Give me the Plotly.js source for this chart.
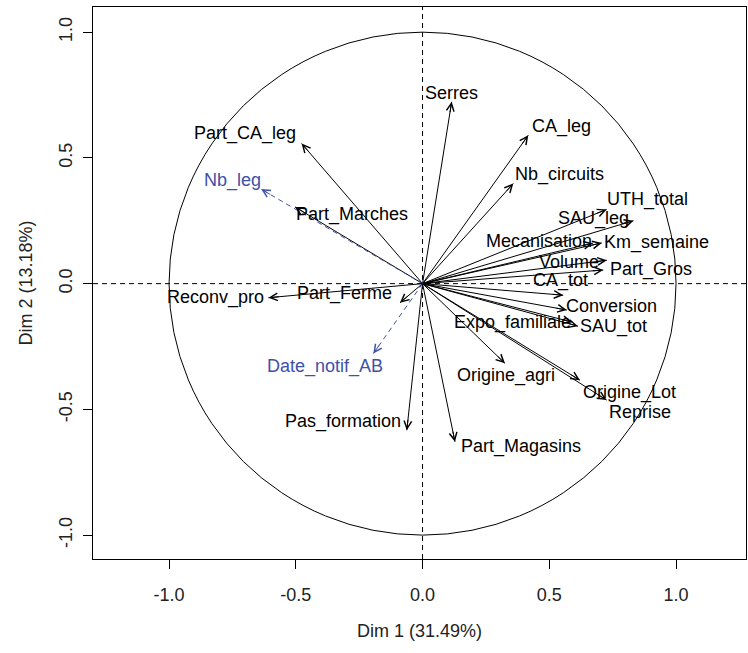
<!DOCTYPE html>
<html>
<head>
<meta charset="utf-8">
<script src="https://cdn.plot.ly/plotly-3.0.1.min.js"></script>
<style>html,body{margin:0;padding:0;background:#fff}#chart{width:748px;height:653px}</style>
</head>
<body>
<div id="chart"></div>
<script>
// Variable names
var varNames = ["Serres","CA_leg","Nb_circuits","UTH_total","SAU_leg","Km_semaine","Mecanisation","Volume","Part_Gros","CA_tot","Conversion","SAU_tot","Expo_familiale","Origine_agri","Origine_Lot","Reprise","Part_Magasins","Pas_formation","Part_CA_leg","Part_Marches","Reconv_pro","Part_Ferme"];
// Dim 1 / Dim 2 coordinates (active variables)
var dim1 = [0.115,0.417,0.358,0.726,0.832,0.707,0.672,0.727,0.713,0.555,0.569,0.613,0.590,0.325,0.621,0.726,0.128,-0.062,-0.477,-0.503,-0.608,-0.089];
var dim2 = [0.723,0.590,0.398,0.295,0.250,0.162,0.161,0.093,0.054,-0.046,-0.105,-0.169,-0.153,-0.317,-0.384,-0.463,-0.629,-0.583,0.557,0.305,-0.056,-0.076];
// Supplementary variables
var supNames = ["Nb_leg","Date_notif_AB"];
var supDim1 = [-0.637,-0.194];
var supDim2 = [0.376,-0.278];
var xTitle = "Dim 1 (31.49%)";
var yTitle = "Dim 2 (13.18%)";
var tickVals = [-1.0,-0.5,0.0,0.5,1.0];
var tickText = ["-1.0","-0.5","0.0","0.5","1.0"];

// label offsets in screen pixels (dx right, dy down) -- layout only
var labelOff = [[0,-9],[33,-9],[46,-9],[41,-10],[-40,-2],[55,0],[-54,-2],[-38,2],[48,-1],[-3,-15],[45,-4],[36,0],[-60,0],[1,12],[50,12],[33,12],[66,5],[-64,-9],[-57,-10],[57,8],[-53,0],[-55,-9]];
var supLabelOff = [[-29,-9],[-48,13]];

var FONT = "Liberation Sans, Arial, sans-serif";
var FS = 18;
var SUPCOL = "#4050a8";
var PXX = 253.5, PXY = 251.5, HEADTAIL = 12;

function segs(xs, ys){
  var X=[],Y=[];
  for(var i=0;i<xs.length;i++){X.push(0,xs[i],null);Y.push(0,ys[i],null);}
  return {x:X,y:Y};
}
var a = segs(dim1, dim2), s = segs(supDim1, supDim2);
var traces = [
  {x:a.x,y:a.y,mode:"lines",line:{color:"#000",width:1},hoverinfo:"skip",showlegend:false},
  {x:s.x,y:s.y,mode:"lines",line:{color:SUPCOL,width:1,dash:"5px,4px"},hoverinfo:"skip",showlegend:false}
];

var ann = [];
function addArrow(x,y,col){
  var dx = x*PXX, dy = -y*PXY, n = Math.sqrt(dx*dx+dy*dy);
  ann.push({x:x,y:y,xref:"x",yref:"y",ax:-dx/n*HEADTAIL,ay:-dy/n*HEADTAIL,text:"",showarrow:true,arrowhead:5,arrowsize:1.5,arrowwidth:1,arrowcolor:col});
}
function addLabel(x,y,t,off,col){
  ann.push({x:x,y:y,xref:"x",yref:"y",text:t,showarrow:false,xshift:off[0],yshift:-off[1],font:{family:FONT,size:FS,color:col},xanchor:"center",yanchor:"middle"});
}
for(var i=0;i<varNames.length;i++){addArrow(dim1[i],dim2[i],"#000");addLabel(dim1[i],dim2[i],varNames[i],labelOff[i],"#000");}
for(var j=0;j<supNames.length;j++){addArrow(supDim1[j],supDim2[j],SUPCOL);addLabel(supDim1[j],supDim2[j],supNames[j],supLabelOff[j],SUPCOL);}

var axisCommon = {showgrid:false,zeroline:false,showline:true,mirror:true,linecolor:"#000",linewidth:1,ticks:"outside",ticklen:9,tickcolor:"#000",tickwidth:1,tickvals:tickVals,ticktext:tickText,tickfont:{family:FONT,size:FS,color:"#222"}};

var layout = {
  width:748,height:653,
  margin:{l:93,r:2,t:7,b:94},
  paper_bgcolor:"#fff",plot_bgcolor:"#fff",
  xaxis:Object.assign({},axisCommon,{range:[-1.30,1.276],ticklabelstandoff:10,title:{text:xTitle,font:{family:FONT,size:FS,color:"#222"},standoff:20}}),
  yaxis:Object.assign({},axisCommon,{range:[-1.095,1.10],tickangle:-90,ticklabelstandoff:4,title:{text:yTitle,font:{family:FONT,size:FS,color:"#222"},standoff:18}}),
  shapes:[
    {type:"circle",xref:"x",yref:"y",x0:-1,x1:1,y0:-1,y1:1,line:{color:"#000",width:1}},
    {type:"line",xref:"x",yref:"paper",x0:0,x1:0,y0:0,y1:1,line:{color:"#000",width:1,dash:"5px,4px"}},
    {type:"line",xref:"paper",yref:"y",x0:0,x1:1,y0:0,y1:0,line:{color:"#000",width:1,dash:"5px,4px"}}
  ],
  annotations:ann,
  showlegend:false
};
Plotly.newPlot("chart",traces,layout,{staticPlot:true,displayModeBar:false});
</script>
</body>
</html>
